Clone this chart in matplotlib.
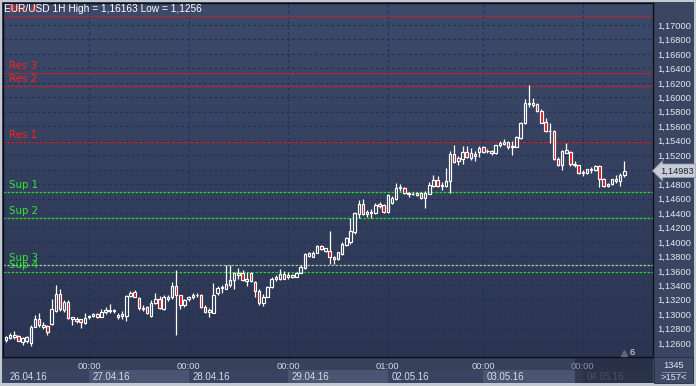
import numpy as np
import matplotlib
matplotlib.use("Agg")
import matplotlib.pyplot as plt
from matplotlib.patches import Rectangle
from matplotlib.colors import LinearSegmentedColormap

plt.rcParams['font.family'] = ['Liberation Sans', 'DejaVu Sans']

# EUR/USD 1H candles
opens = [1.12644, 1.12671, 1.12680, 1.12699, 1.12616, 1.12625, 1.12607, 1.12828, 1.12929, 1.12828,
         1.12837, 1.12865, 1.13049, 1.13280, 1.13058, 1.13169, 1.12939, 1.12939, 1.12929, 1.12874,
         1.12957, 1.12976, 1.13003, 1.12966, 1.13031, 1.13040, 1.13049, 1.12985, 1.12976, 1.12976,
         1.13252, 1.13307, 1.13224, 1.13068, 1.13095, 1.12976, 1.13151, 1.13206, 1.13077, 1.13206,
         1.13234, 1.13390, 1.13261, 1.13123, 1.13206, 1.13243, 1.13261, 1.13261, 1.13105, 1.13031,
         1.13022, 1.13289, 1.13363, 1.13354, 1.13409, 1.13473, 1.13575, 1.13575, 1.13455, 1.13565,
         1.13445, 1.13326, 1.13150, 1.13243, 1.13372, 1.13483, 1.13483, 1.13556, 1.13510, 1.13519,
         1.13519, 1.13575, 1.13639, 1.13805, 1.13796, 1.13851, 1.13943, 1.13874, 1.13874, 1.13791,
         1.13763, 1.13828, 1.13957, 1.14003, 1.14141, 1.14390, 1.14519, 1.14381, 1.14399, 1.14399,
         1.14519, 1.14510, 1.14418, 1.14538, 1.14593, 1.14740, 1.14750, 1.14676, 1.14667, 1.14648,
         1.14676, 1.14602, 1.14667, 1.14777, 1.14851, 1.14786, 1.14777, 1.14842, 1.15220, 1.15118,
         1.15146, 1.15238, 1.15155, 1.15220, 1.15247, 1.15312, 1.15254, 1.15263, 1.15226, 1.15336,
         1.15355, 1.15383, 1.15309, 1.15318, 1.15438, 1.15641, 1.15908, 1.15899, 1.15908, 1.15807,
         1.15659, 1.15530, 1.15530, 1.15152, 1.15060, 1.15235, 1.15244, 1.15078, 1.15060, 1.14949,
         1.14958, 1.14995, 1.14995, 1.15051, 1.14866, 1.14774, 1.14802, 1.14839, 1.14848, 1.14931]
highs = [1.12699, 1.12745, 1.12763, 1.12708, 1.12680, 1.12699, 1.12846, 1.12994, 1.13012, 1.12893,
         1.12856, 1.13206, 1.13409, 1.13354, 1.13197, 1.13197, 1.12966, 1.12957, 1.12939, 1.13012,
         1.12994, 1.13012, 1.13012, 1.13077, 1.13095, 1.13141, 1.13077, 1.13012, 1.13040, 1.13271,
         1.13317, 1.13335, 1.13234, 1.13123, 1.13114, 1.13197, 1.13298, 1.13252, 1.13271, 1.13261,
         1.13446, 1.13612, 1.13271, 1.13215, 1.13252, 1.13298, 1.13289, 1.13280, 1.13123, 1.13086,
         1.13437, 1.13390, 1.13400, 1.13676, 1.13676, 1.13584, 1.13639, 1.13612, 1.13584, 1.13584,
         1.13464, 1.13344, 1.13280, 1.13390, 1.13510, 1.13538, 1.13630, 1.13602, 1.13584, 1.13556,
         1.13584, 1.13676, 1.13851, 1.13860, 1.13879, 1.13953, 1.13962, 1.13920, 1.14150, 1.13809,
         1.13865, 1.13994, 1.14067, 1.14325, 1.14418, 1.14574, 1.14593, 1.14436, 1.14455, 1.14538,
         1.14547, 1.14528, 1.14667, 1.14639, 1.14814, 1.14796, 1.14759, 1.14694, 1.14685, 1.14694,
         1.14694, 1.14704, 1.14833, 1.14925, 1.14916, 1.14823, 1.15017, 1.15257, 1.15340, 1.15192,
         1.15321, 1.15330, 1.15303, 1.15257, 1.15321, 1.15330, 1.15290, 1.15272, 1.15346, 1.15401,
         1.15429, 1.15392, 1.15392, 1.15466, 1.15659, 1.15973, 1.16163, 1.15991, 1.15917, 1.15834,
         1.15714, 1.15641, 1.15548, 1.15180, 1.15272, 1.15373, 1.15263, 1.15115, 1.15069, 1.14995,
         1.15014, 1.15032, 1.15069, 1.15060, 1.14885, 1.14811, 1.14876, 1.14922, 1.14949, 1.15124]
lows = [1.12616, 1.12662, 1.12662, 1.12625, 1.12570, 1.12597, 1.12560, 1.12819, 1.12828, 1.12800,
        1.12708, 1.12856, 1.13031, 1.13049, 1.13031, 1.12929, 1.12856, 1.12883, 1.12810, 1.12865,
        1.12939, 1.12966, 1.12948, 1.12957, 1.13003, 1.13012, 1.13022, 1.12939, 1.12939, 1.12911,
        1.13234, 1.13234, 1.13058, 1.13049, 1.13003, 1.12957, 1.13141, 1.13068, 1.13058, 1.13178,
        1.13206, 1.12717, 1.13077, 1.13095, 1.13188, 1.13215, 1.13243, 1.13086, 1.13012, 1.12957,
        1.13012, 1.13271, 1.13289, 1.13344, 1.13381, 1.13344, 1.13492, 1.13455, 1.13390, 1.13445,
        1.13243, 1.13132, 1.13113, 1.13233, 1.13363, 1.13464, 1.13473, 1.13483, 1.13492, 1.13501,
        1.13510, 1.13565, 1.13621, 1.13796, 1.13787, 1.13842, 1.13888, 1.13855, 1.13689, 1.13689,
        1.13754, 1.13818, 1.13938, 1.13975, 1.14113, 1.14335, 1.14372, 1.14344, 1.14335, 1.14390,
        1.14473, 1.14399, 1.14399, 1.14519, 1.14584, 1.14704, 1.14667, 1.14621, 1.14648, 1.14630,
        1.14593, 1.14473, 1.14657, 1.14759, 1.14759, 1.14722, 1.14759, 1.14676, 1.15091, 1.15063,
        1.15082, 1.15165, 1.15137, 1.15118, 1.15174, 1.15229, 1.15235, 1.15207, 1.15217, 1.15309,
        1.15346, 1.15290, 1.15207, 1.15309, 1.15419, 1.15632, 1.15871, 1.15871, 1.15797, 1.15641,
        1.15521, 1.15364, 1.15134, 1.15051, 1.14995, 1.15226, 1.15051, 1.15041, 1.14940, 1.14912,
        1.14940, 1.14949, 1.14986, 1.14756, 1.14756, 1.14756, 1.14783, 1.14811, 1.14774, 1.14903]
closes = [1.12680, 1.12708, 1.12717, 1.12634, 1.12671, 1.12680, 1.12828, 1.12929, 1.12846, 1.12856,
          1.12754, 1.13068, 1.13280, 1.13077, 1.13169, 1.12948, 1.12957, 1.12902, 1.12893, 1.12948,
          1.12976, 1.13003, 1.12966, 1.13031, 1.13058, 1.13058, 1.13058, 1.12966, 1.13003, 1.13252,
          1.13289, 1.13243, 1.13086, 1.13086, 1.13022, 1.13151, 1.13206, 1.13086, 1.13234, 1.13234,
          1.13390, 1.13261, 1.13123, 1.13197, 1.13234, 1.13271, 1.13271, 1.13105, 1.13031, 1.13058,
          1.13271, 1.13363, 1.13381, 1.13418, 1.13473, 1.13575, 1.13547, 1.13473, 1.13483, 1.13455,
          1.13326, 1.13150, 1.13243, 1.13381, 1.13492, 1.13519, 1.13556, 1.13492, 1.13538, 1.13547,
          1.13575, 1.13648, 1.13833, 1.13842, 1.13851, 1.13943, 1.13897, 1.13911, 1.13791, 1.13763,
          1.13855, 1.13966, 1.14049, 1.14150, 1.14399, 1.14528, 1.14390, 1.14418, 1.14409, 1.14510,
          1.14491, 1.14418, 1.14648, 1.14611, 1.14750, 1.14759, 1.14676, 1.14667, 1.14657, 1.14676,
          1.14602, 1.14676, 1.14786, 1.14860, 1.14777, 1.14777, 1.14842, 1.15220, 1.15109, 1.15165,
          1.15238, 1.15174, 1.15229, 1.15183, 1.15303, 1.15247, 1.15263, 1.15226, 1.15336, 1.15364,
          1.15383, 1.15309, 1.15327, 1.15447, 1.15650, 1.15927, 1.15927, 1.15927, 1.15807, 1.15650,
          1.15530, 1.15539, 1.15152, 1.15060, 1.15263, 1.15272, 1.15078, 1.15060, 1.14949, 1.14968,
          1.15005, 1.15014, 1.15051, 1.14866, 1.14774, 1.14802, 1.14866, 1.14876, 1.14931, 1.14983]

res_names = ['Res 1', 'Res 2', 'Res 3', 'Res 4']
res_levels = [1.15381, 1.16156, 1.16336, 1.17125]
sup_names = ['Sup 1', 'Sup 2', 'Sup 3', 'Sup 4']
sup_levels = [1.14684, 1.14325, 1.13678, 1.13577]

price_ticks = [1.126 + 0.002 * k for k in range(23)]
hour_ticks = [20, 44, 68, 92, 115, 139]
hour_labels = ['00:00', '00:00', '00:00', '01:00', '00:00', '00:00']
day_starts = [0, 20, 44, 68, 92, 115, 139]
day_labels = ['26.04.16', '27.04.16', '28.04.16', '29.04.16', '02.05.16', '03.05.16', '04.05.16']
title = 'EUR/USD 1H High = 1,16163 Low = 1,1256'

W, H = 696, 386


def fr(x0, y0, x1, y1):
    return [x0 / W, 1 - y1 / H, (x1 - x0) / W, (y1 - y0) / H]


def fmt(v):
    return ('%.5f' % v).replace('.', ',')


fig = plt.figure(figsize=(W / 100, H / 100), dpi=100, facecolor='#c4c9d1')
fig.add_artist(Rectangle((2 / W, 3 / H), 692 / W, 381 / H, transform=fig.transFigure,
                         facecolor='#3a4561', edgecolor='none', zorder=-5))

# bottom time strip
bx = fig.add_axes(fr(3, 357, 653, 383))
bx.set_zorder(0)
bx.set_facecolor('#37415c')
for s in bx.spines.values():
    s.set_visible(False)
bx.set_xticks([]); bx.set_yticks([])

ax = fig.add_axes(fr(3, 3, 653, 357))
ax.set_zorder(1)
xmin, xmax = -0.72, 155.9
bg = LinearSegmentedColormap.from_list('bg', ['#3d4a69', '#2b3552'])
ax.imshow(np.linspace(0, 1, 256).reshape(-1, 1), cmap=bg, aspect='auto',
          extent=[0, 1, 0, 1], transform=ax.transAxes, zorder=0)
ax.set_xlim(xmin, xmax)
ax.set_ylim(1.12408, 1.17304)
bx.set_xlim(xmin, xmax)
bx.set_ylim(0, 1)

# alternating day boxes in the lower strip
ends = day_starts[1:] + [xmax]
for k, (s, e) in enumerate(zip(day_starts, ends)):
    s0 = xmin if k == 0 else s
    bx.axvspan(s0, e, ymin=0, ymax=0.5, color='#4a5572' if k % 2 else '#3a4460', lw=0)
    col = '#7f899d' if k == len(day_labels) - 1 else '#d2dcee'
    bx.annotate(day_labels[k], xy=(s0, 0.25), xytext=(5 if k == 0 else 2.5, 0),
                textcoords='offset points', va='center', ha='left', fontsize=7, color=col)
bx.axvspan(137.1, xmax, color='#1d2437', alpha=0.55, lw=0, zorder=5)

# grid + axes (1,15000 label is hidden under the last-price tag)
last = closes[-1]
ax.set_yticks(price_ticks)
ax.set_yticklabels(['' if abs(v - last) < 0.0006 else fmt(v) for v in price_ticks])
ax.set_xticks(hour_ticks)
ax.set_xticklabels(hour_labels)
ax.yaxis.tick_right()
ax.tick_params(axis='y', length=0, pad=3, labelsize=6.7, labelcolor='#e2e8f2')
ax.tick_params(axis='x', length=0, pad=3.5, labelsize=6.7, labelcolor='#cdd9ee')
ax.get_xticklabels()[-1].set_color('#8993a8')
ax.grid(True, color='#1c3160', ls=(0, (2.5, 2.5)), lw=0.8)
for s in ax.spines.values():
    s.set_color('#0c0f16')
    s.set_linewidth(1.0)

# support / resistance
for name, lev in zip(res_names, res_levels):
    ax.axhline(lev, color='#e01c1c', ls=(0, (2, 1.2)), lw=0.9, zorder=2)
    ax.annotate(name, xy=(0, lev), xycoords=ax.get_yaxis_transform(), xytext=(4, 3),
                textcoords='offset points', va='baseline', fontsize=7.4, color='#ff1f1f',
                family='DejaVu Sans', zorder=3)
for name, lev in zip(sup_names, sup_levels):
    c = '#a2cfa2' if name == 'Sup 3' else '#22e022'
    ax.axhline(lev, color=c, ls=(0, (2, 1.2)), lw=0.9, zorder=2)
    ax.annotate(name, xy=(0, lev), xycoords=ax.get_yaxis_transform(), xytext=(4, 3),
                textcoords='offset points', va='baseline', fontsize=7.4, color='#33e833',
                family='DejaVu Sans', zorder=3)

# candles
o = np.array(opens); h = np.array(highs); l = np.array(lows); c = np.array(closes)
x = np.arange(len(o))
top = np.maximum(o, c)
bot = np.minimum(o, c)
ax.vlines(x, top, h, color='white', lw=0.9, zorder=4)
ax.vlines(x, l, bot, color='white', lw=0.9, zorder=4)
for i in range(len(o)):
    face = 'none' if c[i] >= o[i] else '#e01010'
    ax.add_patch(Rectangle((x[i] - 0.3, bot[i]), 0.6, max(top[i] - bot[i], 0.00002),
                           facecolor=face, edgecolor='white', lw=0.85, zorder=5))

# title & last price tag
ax.text(0.002, 0.996, title, transform=ax.transAxes, ha='left', va='top',
        fontsize=7.3, color='white', zorder=10)
ax.annotate(fmt(last), xy=(1.0, last), xycoords=ax.get_yaxis_transform(),
            xytext=(5, 0), textcoords='offset points', va='center', ha='left',
            fontsize=6.7, color='#1b2336', annotation_clip=False, zorder=10,
            bbox=dict(boxstyle='larrow,pad=0.25', fc='#c8ccd4', ec='#8f96a3', lw=0.5))

ax.text(0.9677, 0.014, '6', transform=ax.transAxes, ha='center', va='center',
        fontsize=6.7, color='#e2e8f2', zorder=10)
ax.plot([0.955], [0.01], marker='^', ms=4.5, color='#5d677c', transform=ax.transAxes,
        clip_on=False, zorder=10)

# bottom-right counter box
fig.add_artist(Rectangle((654 / W, 3 / H), 39 / W, 26 / H, transform=fig.transFigure,
                         facecolor='#3e4966', edgecolor='#262e42', lw=0.6, zorder=-4))
fig.text(674 / W, 1 - 366 / H, '1345', ha='center', va='center', fontsize=6.7, color='#e2e8f2')
fig.text(674 / W, 1 - 378 / H, '>157<', ha='center', va='center', fontsize=6.7, color='#e2e8f2')
fig.add_artist(plt.Line2D([662 / W, 686 / W], [1 - 371.5 / H, 1 - 371.5 / H],
                          transform=fig.transFigure, color='#8e98ac', lw=0.6))

fig.savefig('out.png', dpi=100, facecolor=fig.get_facecolor())
